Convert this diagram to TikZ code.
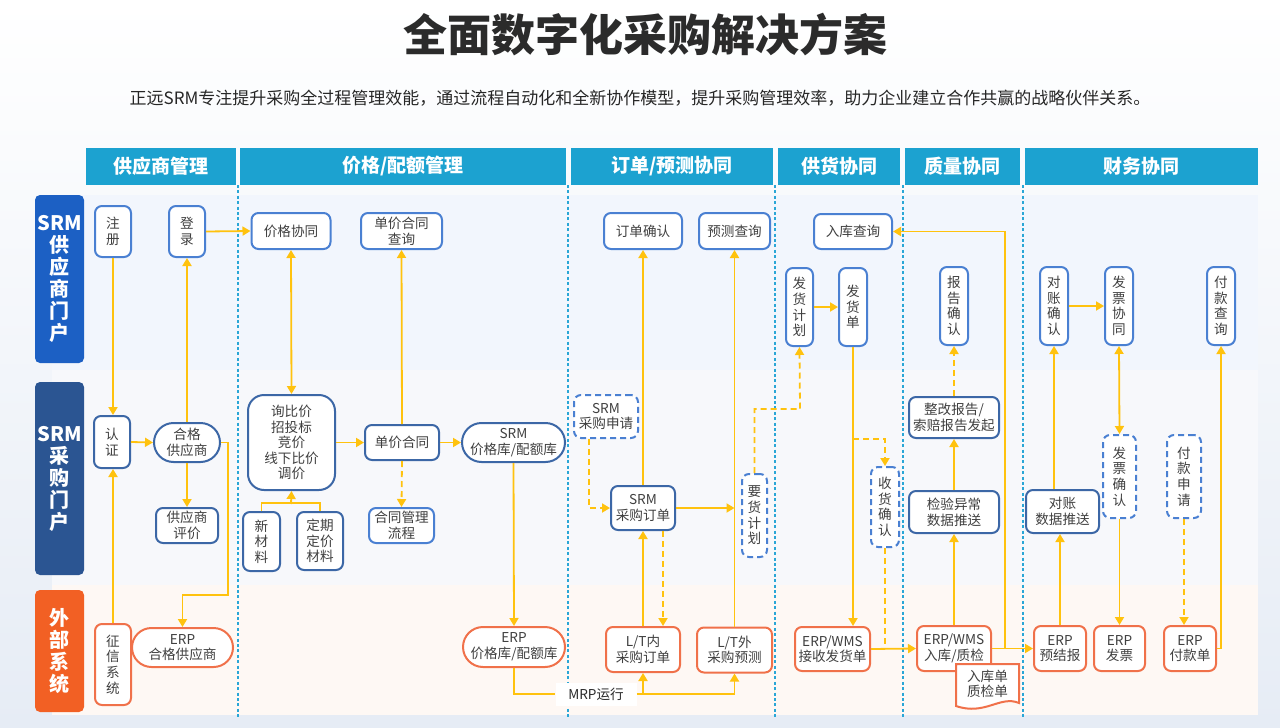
\documentclass[tikz,border=0pt]{standalone}
\usepackage{fontspec}
\setmainfont{Noto Sans CJK SC}
\usetikzlibrary{arrows.meta, positioning, calc}

\definecolor{bgblue}{HTML}{E6ECF5}
\definecolor{rowonefill}{HTML}{F2F6FD}
\definecolor{rowtwofill}{HTML}{F7F8FB}
\definecolor{rowthreefill}{HTML}{FEF8F4}
\definecolor{headteal}{HTML}{1CA2D0}
\definecolor{portalblue}{HTML}{1C60C4}
\definecolor{buyblue}{HTML}{2B5592}
\definecolor{extorange}{HTML}{F26024}
\definecolor{lineblue}{HTML}{4A80D2}
\definecolor{darkline}{HTML}{3C67A6}
\definecolor{erporange}{HTML}{F0714A}
\definecolor{flowyellow}{HTML}{FFC20E}
\definecolor{septeal}{HTML}{2AA6D6}
\definecolor{txtgray}{HTML}{404040}
\definecolor{titlegray}{HTML}{2B2B2B}

\tikzset{
  basebox/.style={rectangle, fill=white, line width=1pt, rounded corners=3.5pt, inner sep=0pt,
    align=center, text=txtgray, font=\fontsize{6.8}{7.8}\selectfont},
  portalbox/.style={basebox, draw=lineblue},
  buybox/.style={basebox, draw=darkline},
  erpbox/.style={basebox, draw=erporange},
  planbox/.style={basebox, draw=lineblue, dash pattern=on 3pt off 2pt},
  pill/.style={rounded corners=#1},
  flow/.style={draw=flowyellow, line width=0.9pt, -{Triangle[length=4pt, width=4.5pt]}},
  twoway/.style={flow, {Triangle[length=4pt, width=4.5pt]}-{Triangle[length=4pt, width=4.5pt]}},
  dflow/.style={flow, dash pattern=on 3pt off 2pt},
  link/.style={draw=flowyellow, line width=0.9pt},
  dlink/.style={link, dash pattern=on 3pt off 2pt},
  colhead/.style={fill=headteal, text=white, font=\fontsize{9.5}{11}\selectfont\bfseries,
    minimum height=18.5pt, inner sep=0pt},
  rowhead/.style={rounded corners=2.5pt, text=white, font=\fontsize{10}{11}\selectfont\bfseries,
    minimum width=24.5pt, inner sep=0pt, align=center},
  sepline/.style={draw=septeal, line width=0.6pt, dash pattern=on 1.5pt off 1.2pt}
}

\begin{document}
\begin{tikzpicture}[x=0.5pt, y=-0.5pt]
  \useasboundingbox (0,0) rectangle (1280,728);
  \shade[top color=white, bottom color=bgblue] (0,0) rectangle (1280,728);
  % lanes
  \fill[rowonefill] (52,195) rectangle (1258,370);
  \fill[rowtwofill] (52,370) rectangle (1258,585);
  \fill[rowthreefill] (52,585) rectangle (1258,715);
  \foreach \sx in {238,568,775,903,1023}
    \draw[sepline] (\sx,185) -- (\sx,718);

  % title
  \node[font=\fontsize{22}{24}\selectfont\bfseries, text=titlegray] (title) at (645,35) {全面数字化采购解决方案};
  \node[font=\fontsize{8.5}{10}\selectfont, text=black!85] (subtitle) at (640,98)
    {正远SRM专注提升采购全过程管理效能，通过流程自动化和全新协作模型，提升采购管理效率，助力企业建立合作共赢的战略伙伴关系。};

  % column heads
  \node[colhead, minimum width=75pt] (hsup) at (161,166.5) {供应商管理};
  \node[colhead, minimum width=163pt] (hprice) at (403,166.5) {价格/配额管理};
  \node[colhead, minimum width=101pt] (horder) at (672,166.5) {订单/预测协同};
  \node[colhead, minimum width=61pt] (hship) at (839,166.5) {供货协同};
  \node[colhead, minimum width=57.5pt] (hqual) at (962.5,166.5) {质量协同};
  \node[colhead, minimum width=116.5pt] (hfin) at (1141.5,166.5) {财务协同};

  % row heads
  \node[rowhead, fill=portalblue, minimum height=84pt] (rsup) at (59.5,279) {SRM\\供\\应\\商\\门\\户};
  \node[rowhead, fill=buyblue, minimum height=96.5pt] (rbuy) at (59.5,478.5) {SRM\\采\\购\\门\\户};
  \node[rowhead, fill=extorange, minimum height=61pt] (rext) at (59.5,651) {外\\部\\系\\统};

  % supplier management
  \node[portalbox, minimum width=18pt, minimum height=25.5pt] (reg) at (113,231.5) {注\\册};
  \node[portalbox, minimum width=18pt, minimum height=25.5pt] (login) at (187,231.5) {登\\录};
  \node[buybox, minimum width=18pt, minimum height=26pt] (cert) at (112,442) {认\\证};
  \node[buybox, pill=9.75pt, minimum width=33pt, minimum height=19.5pt] (qualsup) at (187,442.5) {合格\\供应商};
  \node[buybox, minimum width=31pt, minimum height=17.5pt] (supeval) at (187,525.5) {供应商\\评价};
  \node[erpbox, minimum width=18pt, minimum height=40.5pt] (credit) at (113,664.5) {征\\信\\系\\统};
  \node[erpbox, pill=9.75pt, minimum width=50.5pt, minimum height=19.5pt] (erpsup) at (182.5,647.5) {ERP\\合格供应商};

  % price / quota
  \node[portalbox, minimum width=39.5pt, minimum height=18pt] (pricecoop) at (291,231) {价格协同};
  \node[portalbox, minimum width=40.5pt, minimum height=18pt] (unitq) at (401.5,231) {单价合同\\查询};
  \node[buybox, rounded corners=8pt, minimum width=43.5pt, minimum height=47.5pt] (inquiry) at (291.5,442.5)
    {询比价\\招投标\\竞价\\线下比价\\调价};
  \node[buybox, minimum width=18.5pt, minimum height=29.5pt] (newmat) at (261.5,541.5) {新\\材\\料};
  \node[buybox, minimum width=23pt, minimum height=29pt] (regmat) at (320,541) {定期\\定价\\材料};
  \node[buybox, minimum width=37pt, minimum height=17.5pt] (unitcon) at (402,442.5) {单价合同};
  \node[portalbox, minimum width=32.5pt, minimum height=17.5pt] (conflow) at (401.5,525.5) {合同管理\\流程};
  \node[buybox, pill=9.75pt, minimum width=51.5pt, minimum height=19.5pt] (srmprice) at (513.5,442.5) {SRM\\价格库/配额库};
  \node[erpbox, pill=10pt, minimum width=51pt, minimum height=20pt] (erpprice) at (514,647) {ERP\\价格库/配额库};
  \node[fill=white, text=titlegray, font=\fontsize{6.8}{7.8}\selectfont, minimum width=40.5pt, minimum height=11.5pt, inner sep=0pt] (mrp) at (596,694) {MRP运行};

  % order / forecast
  \node[portalbox, minimum width=39pt, minimum height=18pt] (ordconf) at (643,231) {订单确认};
  \node[portalbox, minimum width=35.5pt, minimum height=18pt] (fcq) at (734.5,231) {预测查询};
  \node[planbox, minimum width=32pt, minimum height=21.5pt] (reqapp) at (606,416.5) {SRM\\采购申请};
  \node[buybox, minimum width=32pt, minimum height=22pt] (srmpo) at (643,508) {SRM\\采购订单};
  \node[planbox, minimum width=12.5pt, minimum height=41.5pt] (demand) at (754.5,515.5) {要\\货\\计\\划};
  \node[erpbox, minimum width=37pt, minimum height=22.5pt] (ltin) at (643,649.5) {L/T内\\采购订单};
  \node[erpbox, minimum width=37.5pt, minimum height=22.5pt] (ltout) at (734.5,650) {L/T外\\采购预测};

  % supply
  \node[portalbox, minimum width=39pt, minimum height=17.5pt] (instock) at (853,231.5) {入库查询};
  \node[portalbox, minimum width=13.5pt, minimum height=39pt] (shipplan) at (799.5,307) {发\\货\\计\\划};
  \node[portalbox, minimum width=14pt, minimum height=39pt] (shipnote) at (853,307) {发\\货\\单};
  \node[planbox, minimum width=14pt, minimum height=40pt] (recvconf) at (885,507) {收\\货\\确\\认};
  \node[erpbox, minimum width=37.5pt, minimum height=22pt] (erprecv) at (832.5,649) {ERP/WMS\\接收发货单};

  % quality
  \node[portalbox, minimum width=14pt, minimum height=39pt] (reportconf) at (954,306) {报\\告\\确\\认};
  \node[buybox, minimum width=45pt, minimum height=20.5pt] (rectify) at (954,417.5) {整改报告/\\索赔报告发起};
  \node[buybox, minimum width=45pt, minimum height=21pt] (anomaly) at (954,512) {检验异常\\数据推送};
  \node[erpbox, minimum width=37pt, minimum height=22.5pt] (qc) at (954,648.5) {ERP/WMS\\入库/质检};
  \draw[erporange, line width=1pt, fill=white] (956,664) -- (1019,664) -- (1019,703)
    .. controls (1000,695) and (985,716) .. (956,706) -- cycle;
  \node[text=txtgray, font=\fontsize{6.8}{7.8}\selectfont, align=center] (docs) at (987.5,684) {入库单\\质检单};

  % finance
  \node[portalbox, minimum width=14pt, minimum height=39pt] (reconconf) at (1054,306) {对\\账\\确\\认};
  \node[portalbox, minimum width=14pt, minimum height=39pt] (invcoop) at (1119,306) {发\\票\\协\\同};
  \node[portalbox, minimum width=14pt, minimum height=39pt] (payq) at (1221,306) {付\\款\\查\\询};
  \node[buybox, minimum width=36.5pt, minimum height=21.5pt] (reconpush) at (1062.5,511.5) {对账\\数据推送};
  \node[planbox, minimum width=16.5pt, minimum height=41.5pt] (invconf) at (1119.5,476.5) {发\\票\\确\\认};
  \node[planbox, minimum width=17pt, minimum height=41.5pt] (payapp) at (1184,476.5) {付\\款\\申\\请};
  \node[erpbox, minimum width=26pt, minimum height=22.5pt] (prerep) at (1060,648.5) {ERP\\预结报};
  \node[erpbox, minimum width=25.5pt, minimum height=22.5pt] (erpinv) at (1119.5,648.5) {ERP\\发票};
  \node[erpbox, minimum width=26pt, minimum height=22.5pt] (erppay) at (1190,648.5) {ERP\\付款单};

  % connectors: supplier management
  \draw[flow] (reg.south) -- (cert.north -| reg.south);
  \draw[flow] (credit.north) -- (cert.south -| credit.north);
  \draw[flow] (cert.east) -- (qualsup.west);
  \draw[flow] (qualsup.north) -- (login.south);
  \draw[flow] (qualsup.south) -- (supeval.north);
  \draw[flow] (qualsup.east) -| (228,595) -| (erpsup.north);
  \draw[flow] (login.east) -- (pricecoop.west);

  % connectors: price / quota
  \draw[twoway] (pricecoop.south) -- (inquiry.north);
  \draw[link] (newmat.north) -- ++(0,-8) -| (regmat.north);
  \coordinate (matjoin) at (291,504);
  \draw[flow] (matjoin) -- (inquiry.south);
  \draw[flow] (inquiry.east) -- (unitcon.west);
  \draw[flow] (unitcon.north) -- (unitq.south);
  \draw[dflow] (unitcon.south) -- (conflow.north);
  \draw[flow] (unitcon.east) -- (srmprice.west);
  \draw[flow] (srmprice.south) -- (erpprice.north);
  \draw[link] (erpprice.south) |- (mrp.west);
  \draw[flow] (mrp.east) -| (ltin.south);
  \draw[flow] (mrp.east) -| (ltout.south);

  % connectors: order / forecast
  \draw[dflow] ([xshift=-8.5pt]reqapp.south) |- (srmpo.west);
  \draw[flow] (srmpo.north) -- (ordconf.south);
  \coordinate (fcline) at (ltout.north |- srmpo.east);
  \draw[flow] (srmpo.east) -- (fcline);
  \draw[flow] (ltout.north) -- (fcq.south);
  \draw[flow] (ltin.north) -- (srmpo.south);
  \draw[dflow] ([xshift=10pt]srmpo.south) -- ([xshift=10pt]ltin.north);
  \draw[dflow] (demand.north) |- (800,409) -- (shipplan.south);

  % connectors: supply
  \draw[flow] (shipplan.east) -- (shipnote.west);
  \draw[flow] (shipnote.south) -- (shipnote.south |- erprecv.north);
  \draw[dflow] (853,439) -| (recvconf.north);
  \draw[dlink] (recvconf.south) -- (recvconf.south |- erprecv.east);
  \draw[flow] (erprecv.east) -- (qc.west);

  % connectors: quality
  \draw[flow] (qc.north) -- (anomaly.south);
  \draw[flow] (anomaly.north) -- (rectify.south);
  \draw[dflow] (rectify.north) -- (reportconf.south);
  \draw[flow] (qc.east) -- (prerep.west);
  \draw[flow] ([xshift=6.5pt]qc.east) |- (instock.east);

  % connectors: finance
  \draw[flow] (reconconf.south |- reconpush.north) -- (reconconf.south);
  \draw[flow] (prerep.north) -- (prerep.north |- reconpush.south);
  \draw[flow] (reconconf.east) -- (invcoop.west);
  \draw[twoway] (invcoop.south) -- (invconf.north);
  \draw[flow] (invconf.south) -- (erpinv.north);
  \draw[dflow] (payapp.south) -- (payapp.south |- erppay.north);
  \draw[flow] (erppay.east) -| (payq.south);
\end{tikzpicture}
\end{document}
